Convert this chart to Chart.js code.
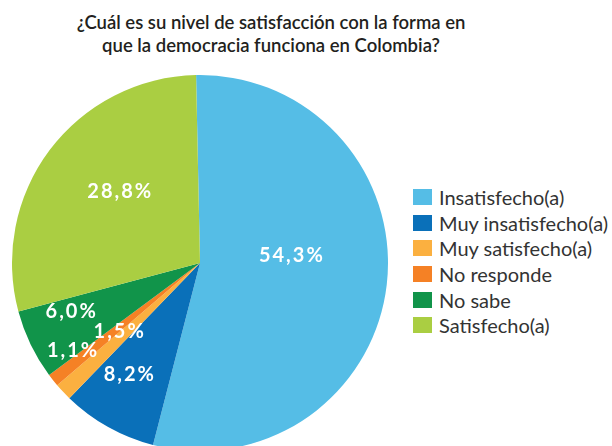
<!DOCTYPE html>
<html>
<head>
<meta charset="utf-8">
<script src="https://cdn.jsdelivr.net/npm/chart.js@4.4.1/dist/chart.umd.min.js"></script>
<style>
  html, body { margin: 0; padding: 0; background: #fff; overflow: hidden; width: 612px; height: 446px; }
  #title {
    position: absolute; left: 0; top: 11px; width: 542px; text-align: center;
    font-family: "Lato", sans-serif; font-weight: 600; font-size: 18.5px; line-height: 23px; color: #231f20;
  }
  #wrap { position: absolute; left: 12px; top: 75px; width: 376px; height: 376px; }
  #legend { position: absolute; left: 413px; top: 184px; font-family: "Lato", sans-serif; font-size: 20px; color: #333; }
  .row { height: 25.7px; display: flex; align-items: center; white-space: nowrap; }
  .box { width: 19px; height: 16px; margin-right: 7px; }
</style>
</head>
<body>
<div id="title">¿Cuál es su nivel de satisfacción con la forma en<br>que la democracia funciona en Colombia?</div>
<div id="wrap"><canvas id="pieChart"></canvas></div>
<div id="legend"></div>
<script>
// Satisfaction with democracy in Colombia - share of answers (%)
const categories = [
  "Insatisfecho(a)",
  "Muy insatisfecho(a)",
  "Muy satisfecho(a)",
  "No responde",
  "No sabe",
  "Satisfecho(a)"
];
const shares = [54.3, 8.2, 1.5, 1.1, 6.0, 28.8];
const sliceColors = ["#55bde6", "#0a70b9", "#fbb040", "#f58125", "#11944a", "#aace42"];

// label placement per slice: fraction of radius, angle tweak in degrees
const labelRadius = [0.49, 0.70, 0.56, 0.82, 0.73, 0.57];
const labelTurn = [-11, 3, 3, 4, 5, 5];

function fmt(v) {
  return v.toFixed(1).replace(".", ",") + "%";
}

const sliceLabels = {
  id: "sliceLabels",
  afterDatasetsDraw(chart) {
    const ctx = chart.ctx;
    const meta = chart.getDatasetMeta(0);
    ctx.save();
    ctx.fillStyle = "#fff";
    ctx.font = "bold 20px Lato, sans-serif";
    ctx.textAlign = "center";
    ctx.textBaseline = "middle";
    if ("letterSpacing" in ctx) ctx.letterSpacing = "2px";
    meta.data.forEach((arc, i) => {
      const mid = (arc.startAngle + arc.endAngle) / 2 + labelTurn[i] * Math.PI / 180;
      const r = arc.outerRadius * labelRadius[i];
      const x = arc.x + Math.cos(mid) * r;
      const y = arc.y + Math.sin(mid) * r;
      ctx.fillText(fmt(shares[i]), x, y);
    });
    ctx.restore();
  }
};

new Chart(document.getElementById("pieChart").getContext("2d"), {
  type: "pie",
  data: {
    labels: categories,
    datasets: [
      {
        data: shares,
        backgroundColor: sliceColors,
        borderWidth: 0
      }
    ]
  },
  options: {
    responsive: true,
    maintainAspectRatio: false,
    animation: false,
    rotation: -1.2,
    layout: { padding: 0 },
    plugins: {
      legend: { display: false },
      tooltip: { enabled: false }
    }
  },
  plugins: [sliceLabels]
});

// legend built from the same arrays
const legend = document.getElementById("legend");
categories.forEach((name, i) => {
  const row = document.createElement("div");
  row.className = "row";
  const box = document.createElement("span");
  box.className = "box";
  box.style.background = sliceColors[i];
  const txt = document.createElement("span");
  txt.textContent = name;
  row.appendChild(box);
  row.appendChild(txt);
  legend.appendChild(row);
});
</script>
</body>
</html>
